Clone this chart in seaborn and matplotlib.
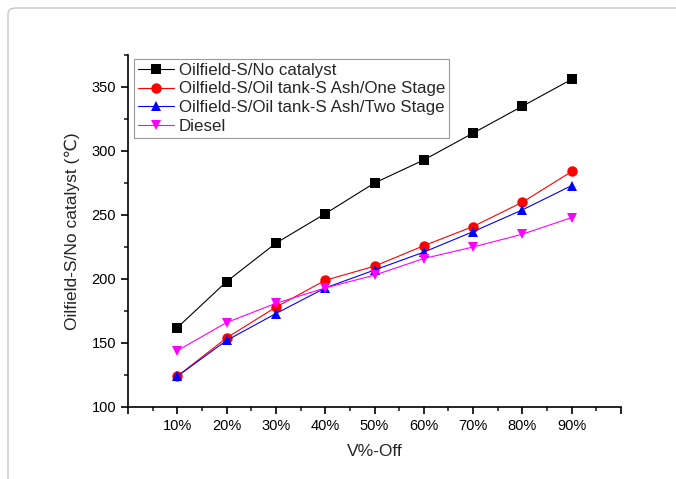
import matplotlib
matplotlib.use("Agg")
import matplotlib.pyplot as plt
from matplotlib.patches import FancyBboxPatch
from matplotlib.ticker import MultipleLocator
import numpy as np
import pandas as pd
import seaborn as sns

# Distillation recovery points (% volume off)
recovered = [10, 20, 30, 40, 50, 60, 70, 80, 90]
tick_labels = ["10%", "20%", "30%", "40%", "50%", "60%", "70%", "80%", "90%"]

series_names = [
    "Oilfield-S/No catalyst",
    "Oilfield-S/Oil tank-S Ash/One Stage",
    "Oilfield-S/Oil tank-S Ash/Two Stage",
    "Diesel",
]
no_catalyst = [162, 198, 228, 251, 275, 293, 314, 335, 356]
one_stage = [124, 154, 178, 199, 210, 226, 241, 260, 284]
two_stage = [124, 152, 173, 193, 207, 221, 237, 254, 273]
diesel = [144, 166, 181, 193, 203, 216, 225, 235, 248]

colors = ["black", "red", "blue", "magenta"]
markers = ["s", "o", "^", "v"]

frames = []
for name, vals in zip(series_names, [no_catalyst, one_stage, two_stage, diesel]):
    frames.append(pd.DataFrame({"V%-Off": recovered, "T": vals, "Sample": name}))
df = pd.concat(frames, ignore_index=True)

sns.set_theme(style="ticks")
plt.rcParams["font.family"] = ["Liberation Sans", "DejaVu Sans"]
plt.rcParams["axes.linewidth"] = 1.2

fig = plt.figure(figsize=(6.76, 4.79), dpi=100)

# light rounded frame around the panel
frame = FancyBboxPatch((8 / 676, -0.1), 1.2, 1.1 - 8 / 479,
                       boxstyle="round,pad=0,rounding_size=0.012",
                       transform=fig.transFigure, facecolor="none",
                       edgecolor="#c8c8c8", linewidth=1.0, zorder=0)
fig.patches.append(frame)

ax = fig.add_axes([128 / 676, 1 - 407 / 479, (621 - 128) / 676, (407 - 55) / 479])

sns.lineplot(data=df, x="V%-Off", y="T", hue="Sample", style="Sample",
             hue_order=series_names, style_order=series_names,
             palette=colors, markers=markers, dashes=False,
             linewidth=0.8, markersize=7.5, markeredgewidth=0,
             ax=ax)

ax.set_xlim(0, 100)
ax.set_ylim(100, 375)
ax.set_xticks([0] + recovered + [100])
ax.set_xticklabels([""] + tick_labels + [""])
ax.xaxis.set_minor_locator(MultipleLocator(5))
ax.set_yticks([100, 150, 200, 250, 300, 350])
ax.yaxis.set_minor_locator(MultipleLocator(25))
ax.tick_params(which="major", direction="out", length=5, width=1.2,
               labelsize=10.5, colors="black")
ax.tick_params(which="minor", direction="out", length=3, width=1.2)
for s in ["left", "bottom"]:
    ax.spines[s].set_color("black")
sns.despine(ax=ax)

ax.set_xlabel("V%-Off", fontsize=12.5, labelpad=8)
ax.set_ylabel("Oilfield-S/No catalyst (\u2103)", fontsize=12.5, labelpad=8)

leg = ax.legend(loc="upper left", bbox_to_anchor=(0.012, 0.99), frameon=True,
                fancybox=False, edgecolor="#808080", fontsize=12.2,
                handlelength=2.1, handletextpad=0.3, labelspacing=0.22,
                borderpad=0.25, borderaxespad=0.0)
leg.get_frame().set_linewidth(0.8)

fig.savefig("out.png", dpi=100, facecolor="white")
